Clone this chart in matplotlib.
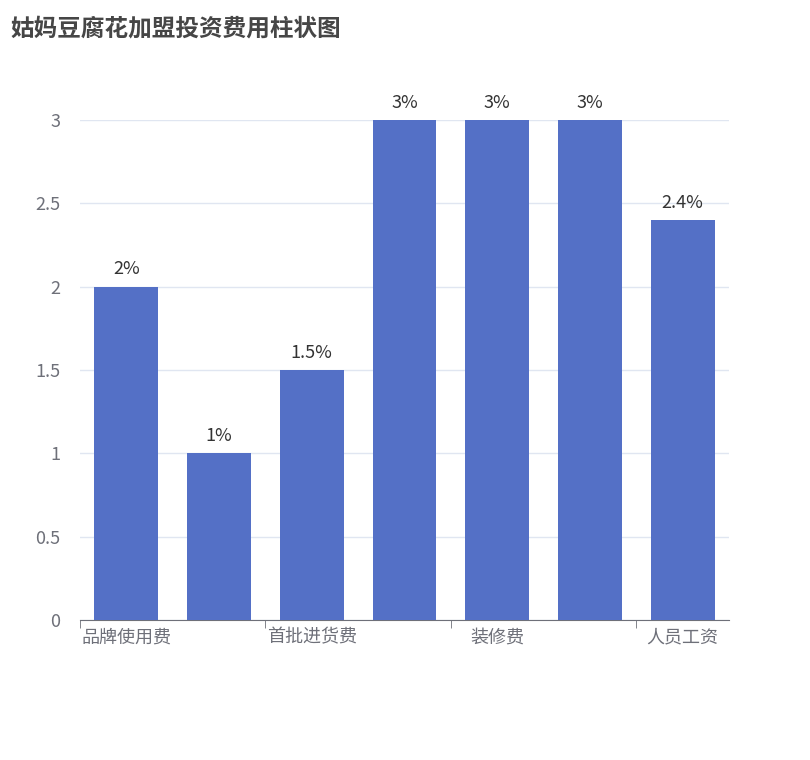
import matplotlib
matplotlib.use("Agg")
import matplotlib.pyplot as plt
import numpy as np

plt.rcParams['font.family'] = ['Noto Sans CJK SC', 'DejaVu Sans']

title = "姑妈豆腐花加盟投资费用柱状图"
categories = ["品牌使用费", "加盟费", "首批进货费", "设备费", "装修费", "房租", "人员工资"]
values = [2, 1, 1.5, 3, 3, 3, 2.4]
value_labels = ["2%", "1%", "1.5%", "3%", "3%", "3%", "2.4%"]
yticks = [0, 0.5, 1, 1.5, 2, 2.5, 3]
ytick_labels = ["0", "0.5", "1", "1.5", "2", "2.5", "3"]

fig = plt.figure(figsize=(8.1, 7.6), dpi=100)
ax = fig.add_axes([80 / 810, 140 / 760, 649 / 810, 500 / 760])

x = np.arange(len(categories))
bars = ax.bar(x, values, width=0.69, color="#5470c6", zorder=3)
for b, lab in zip(bars, value_labels):
    ax.text(b.get_x() + b.get_width() / 2, b.get_height() + 0.05, lab,
            ha="center", va="bottom", fontsize=13, color="#333333")

ax.set_xlim(-0.5, len(categories) - 0.5)
ax.set_ylim(0, 3)
ax.set_yticks(yticks)
ax.set_yticklabels(ytick_labels)
ax.grid(axis="y", color="#e0e6f1", linewidth=1, zorder=0)
ax.tick_params(axis="y", length=0, labelsize=13, labelcolor="#6e7079", pad=14)

# show every other category label, ticks at category boundaries
ax.set_xticks(x[::2])
ax.set_xticklabels(categories[::2])
ax.tick_params(axis="x", length=0, labelsize=13, labelcolor="#6e7079", pad=6)
ax.set_xticks(np.arange(-0.5, len(categories), 2), minor=True)
ax.tick_params(axis="x", which="minor", length=6, color="#6e7079")

for s in ["top", "right", "left"]:
    ax.spines[s].set_visible(False)
ax.spines["bottom"].set_color("#6e7079")

fig.text(10 / 810, 1 - 28 / 760, title, fontsize=17, fontweight="bold",
         color="#464646", va="center", ha="left")

fig.savefig("out.png", dpi=100)
